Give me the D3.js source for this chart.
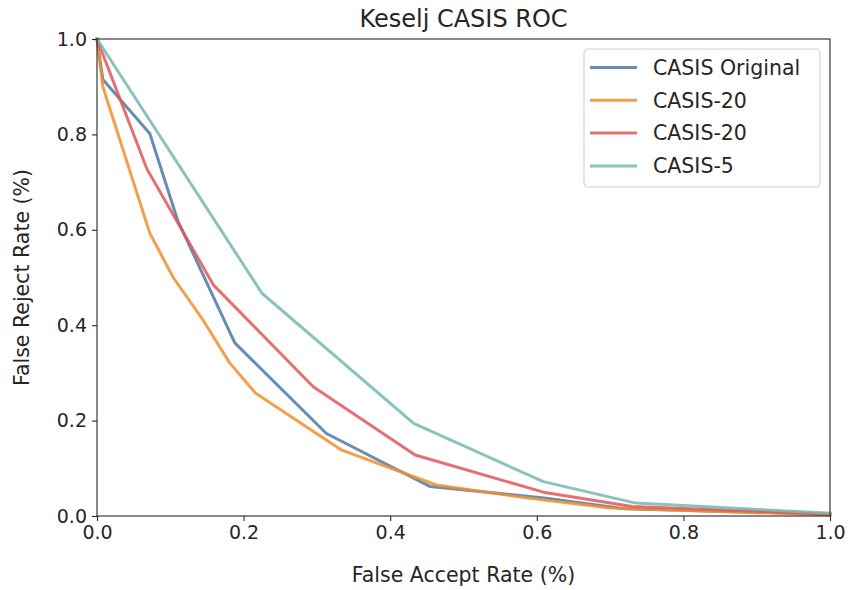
<!DOCTYPE html>
<html>
<head>
<meta charset="utf-8">
<script src="https://cdn.jsdelivr.net/npm/d3@7/dist/d3.min.js"></script>
<style>
  html, body { margin: 0; padding: 0; background: #fff; }
  text { font-family: "DejaVu Sans", sans-serif; fill: #262626; }
</style>
</head>
<body>
<svg id="chart" width="848" height="590"></svg>
<script>
// ---- data ----
const seriesNames = ["CASIS Original", "CASIS-20", "CASIS-20", "CASIS-5"];
const seriesColors = ["#4e79a7", "#f28e2b", "#e15759", "#76b7b2"];

const casisOriginalFAR = [0, 0.008, 0.072, 0.11, 0.188, 0.313, 0.454, 0.61, 0.72, 1.0];
const casisOriginalFRR = [1, 0.915, 0.802, 0.62, 0.363, 0.173, 0.062, 0.038, 0.015, 0.004];

const casis20aFAR = [0, 0.008, 0.072, 0.104, 0.145, 0.181, 0.216, 0.334, 0.463, 0.59, 0.7, 1.0];
const casis20aFRR = [1, 0.9, 0.593, 0.5, 0.41, 0.321, 0.258, 0.138, 0.065, 0.037, 0.017, 0.002];

const casis20bFAR = [0, 0.068, 0.159, 0.295, 0.434, 0.609, 0.73, 1.0];
const casis20bFRR = [1, 0.728, 0.484, 0.271, 0.128, 0.05, 0.02, 0.004];

const casis5FAR = [0, 0.225, 0.432, 0.609, 0.735, 1.0];
const casis5FRR = [1, 0.467, 0.194, 0.072, 0.027, 0.006];

const xTicks = [0, 0.2, 0.4, 0.6, 0.8, 1.0];
const yTicks = [0, 0.2, 0.4, 0.6, 0.8, 1.0];

const titleText = "Keselj CASIS ROC";
const xLabelText = "False Accept Rate (%)";
const yLabelText = "False Reject Rate (%)";

// ---- build ----
const seriesX = [casisOriginalFAR, casis20aFAR, casis20bFAR, casis5FAR];
const seriesY = [casisOriginalFRR, casis20aFRR, casis20bFRR, casis5FRR];
const series = seriesNames.map((name, i) => ({
  name, color: seriesColors[i],
  points: seriesX[i].map((x, j) => ({x, y: seriesY[i][j]}))
}));

const margin = {left: 97, right: 18, top: 39, bottom: 74};
const W = 848, H = 590;
const svg = d3.select("#chart");

const x = d3.scaleLinear().domain([0, 1]).range([margin.left, W - margin.right]);
const y = d3.scaleLinear().domain([0, 1]).range([H - margin.bottom, margin.top]);

// lines
const line = d3.line().x(d => x(d.x)).y(d => y(d.y));
const plotG = svg.append("g");
series.forEach(s => {
  plotG.append("path")
    .datum(s.points)
    .attr("d", line)
    .attr("fill", "none")
    .attr("stroke", s.color)
    .attr("stroke-opacity", 0.85)
    .attr("stroke-width", 3)
    .attr("stroke-linejoin", "round")
    .attr("stroke-linecap", "square");
});

// frame
svg.append("rect")
  .attr("x", x(0)).attr("y", y(1))
  .attr("width", x(1) - x(0)).attr("height", y(0) - y(1))
  .attr("fill", "none").attr("stroke", "#262626").attr("stroke-width", 1.1);

// axes
const tickFont = 19;
const xAxis = svg.append("g")
  .attr("transform", `translate(0,${y(0)})`)
  .call(d3.axisBottom(x).tickValues(xTicks).tickFormat(d3.format(".1f")).tickSize(5).tickPadding(5));
const yAxis = svg.append("g")
  .attr("transform", `translate(${x(0)},0)`)
  .call(d3.axisLeft(y).tickValues(yTicks).tickFormat(d3.format(".1f")).tickSize(5).tickPadding(5));
[xAxis, yAxis].forEach(a => {
  a.select(".domain").remove();
  a.selectAll(".tick line").attr("stroke", "#262626").attr("stroke-width", 1.1);
  a.selectAll(".tick text").attr("font-size", tickFont).attr("font-family", "DejaVu Sans").attr("fill", "#262626");
});

// title and labels
svg.append("text")
  .attr("x", (x(0) + x(1)) / 2).attr("y", 27)
  .attr("text-anchor", "middle").attr("font-size", 24)
  .text(titleText);
svg.append("text")
  .attr("x", (x(0) + x(1)) / 2).attr("y", 582)
  .attr("text-anchor", "middle").attr("font-size", 20.5)
  .text(xLabelText);
svg.append("text")
  .attr("transform", `translate(29,${(y(0) + y(1)) / 2}) rotate(-90)`)
  .attr("text-anchor", "middle").attr("font-size", 20.5)
  .text(yLabelText);

// legend
const lg = svg.append("g").attr("transform", "translate(584,49)");
lg.append("rect")
  .attr("width", 236).attr("height", 138).attr("rx", 4).attr("ry", 4)
  .attr("fill", "#fff").attr("fill-opacity", 0.8)
  .attr("stroke", "#d0d0d0").attr("stroke-width", 1.1);
series.forEach((s, i) => {
  const yy = 18.5 + i * 32.8;
  lg.append("line")
    .attr("x1", 6).attr("x2", 53).attr("y1", yy).attr("y2", yy)
    .attr("stroke", s.color).attr("stroke-opacity", 0.85).attr("stroke-width", 3);
  lg.append("text")
    .attr("x", 69).attr("y", yy).attr("dy", "0.36em")
    .attr("font-size", 20.5)
    .text(s.name);
});
</script>
</body>
</html>
